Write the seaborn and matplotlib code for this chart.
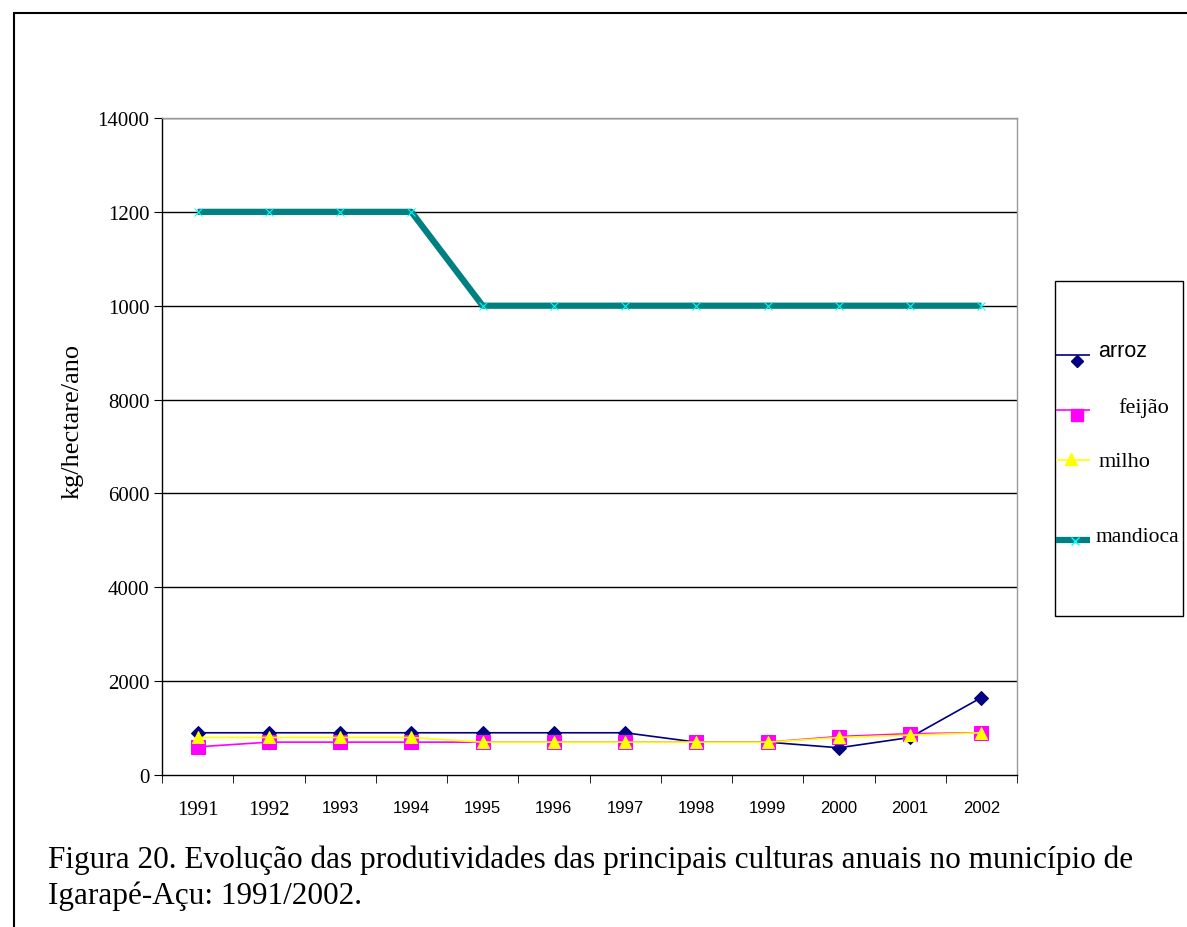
import pandas as pd
import numpy as np
import matplotlib
matplotlib.use('Agg')
import matplotlib.pyplot as plt
import seaborn as sns
from matplotlib.patches import Rectangle
from matplotlib.lines import Line2D

anos = ['1991', '1992', '1993', '1994', '1995', '1996', '1997', '1998', '1999', '2000', '2001', '2002']
arroz = [900, 900, 900, 900, 900, 900, 900, 700, 700, 580, 800, 1650]
feijao = [600, 700, 700, 700, 700, 700, 700, 700, 700, 820, 880, 900]
milho = [800, 800, 800, 800, 700, 700, 700, 700, 700, 800, 850, 900]
mandioca = [12000, 12000, 12000, 12000, 10000, 10000, 10000, 10000, 10000, 10000, 10000, 10000]
ytick_vals = [0, 2000, 4000, 6000, 8000, 10000, 12000, 14000]
ytick_labels = ['0', '2000', '4000', '6000', '8000', '1000', '1200', '14000']

sns.set_style('white')
SERIF = ['Liberation Serif', 'DejaVu Serif']
SANS = ['Liberation Sans', 'DejaVu Sans']
plt.rcParams['font.family'] = SERIF
plt.rcParams['text.color'] = 'black'
plt.rcParams['xtick.color'] = 'black'
plt.rcParams['ytick.color'] = 'black'
plt.rcParams['axes.labelcolor'] = 'black'
plt.rcParams['lines.solid_capstyle'] = 'butt'

df = pd.DataFrame({'pos': np.arange(len(anos)), 'arroz': arroz, 'feijão': feijao,
                   'milho': milho, 'mandioca': mandioca})

W, H = 1187, 928
fig = plt.figure(figsize=(W / 100, H / 100), dpi=100)
ax = fig.add_axes([162 / W, 1 - 776 / H, (1017 - 162) / W, (776 - 119) / H])


def fx(px):
    return px / W


def fy(py):
    return 1 - py / H


# outer frame
fig.patches.append(Rectangle((fx(14), -0.1), 1.2, fy(14) + 0.1, transform=fig.transFigure,
                             fill=False, edgecolor='black', linewidth=1.5))

estilos = [
    ('arroz', '#000080', 'D', 7, '#000080', 1.2),
    ('feijão', '#FF00FF', 's', 10, '#FF00FF', 1.2),
    ('milho', '#FFFF00', '^', 9, '#FFFF00', 1.2),
    ('mandioca', '#008080', 'x', 6, '#00FFFF', 4.5),
]
for nome, cor, mk, ms, mcor, lw in estilos:
    sns.lineplot(data=df, x='pos', y=nome, ax=ax, color=cor, linewidth=lw, marker=mk,
                 markersize=ms, markerfacecolor=mcor, markeredgecolor=mcor, legend=False)

ax.set_xlim(-0.5, 11.5)
ax.set_ylim(0, 14000)
for v in ytick_vals[1:]:
    ax.axhline(v, color='black', linewidth=1, zorder=0)

ax.set_yticks(ytick_vals)
ax.set_yticklabels(ytick_labels, fontsize=15)
ax.set_xticks(np.arange(len(anos)))
ax.set_xticklabels(anos)
ax.set_xticks(np.arange(-0.5, 12, 1), minor=True)
ax.tick_params(axis='x', which='major', length=0, pad=18)
ax.tick_params(axis='x', which='minor', length=6, direction='out', bottom=True, color='black')
ax.tick_params(axis='y', length=6, direction='out', left=True, color='black', pad=3)
for i, t in enumerate(ax.get_xticklabels()):
    if i < 2:
        t.set_fontsize(15)
    else:
        t.set_family(SANS)
        t.set_fontsize(12)

ax.set_xlabel('')
ax.set_ylabel('')
fig.text(fx(73), fy(421), 'kg/hectare/ano', fontsize=19, rotation=90, ha='center', va='center')
for s in ['left', 'bottom']:
    ax.spines[s].set_color('black')
    ax.spines[s].set_linewidth(1)
for s in ['top', 'right']:
    ax.spines[s].set_color('#999999')
    ax.spines[s].set_linewidth(1)

# legend box drawn by hand to follow the original layout
fig.patches.append(Rectangle((fx(1055), fy(617)), fx(1183) - fx(1055), fy(282) - fy(617),
                             transform=fig.transFigure, fill=False, edgecolor='black', linewidth=1))
leg_items = [
    # label, line y, marker x, marker y, text x, text y, family, fontsize
    ('arroz', 356, 1077, 362, 1098, 352, SANS, 15.5),
    ('feijão', 411, 1077, 416, 1118, 408, SERIF, 16),
    ('milho', 461, 1071, 460, 1099, 463, SERIF, 16),
    ('mandioca', 541, 1075, 542, 1096, 537, SERIF, 15.5),
]
for (nome, ly, mx, my, tx, ty, fam, fs), (_, cor, mk, ms, mcor, lw) in zip(leg_items, estilos):
    fig.lines.append(Line2D([fx(1056), fx(1090)], [fy(ly), fy(ly)], transform=fig.transFigure,
                            color=cor, linewidth=lw))
    fig.lines.append(Line2D([fx(mx)], [fy(my)], transform=fig.transFigure, linestyle='none',
                            marker=mk, markersize=ms * 0.9, color=mcor))
    fig.text(fx(tx), fy(ty), nome, family=fam, fontsize=fs, ha='left', va='center')

fig.text(fx(48), fy(868), 'Figura 20. Evolução das produtividades das principais culturas anuais no município de',
         fontsize=22.5, va='baseline', ha='left')
fig.text(fx(48), fy(904), 'Igarapé-Açu: 1991/2002.', fontsize=22.5, va='baseline', ha='left')

fig.savefig('out.png', dpi=100)
